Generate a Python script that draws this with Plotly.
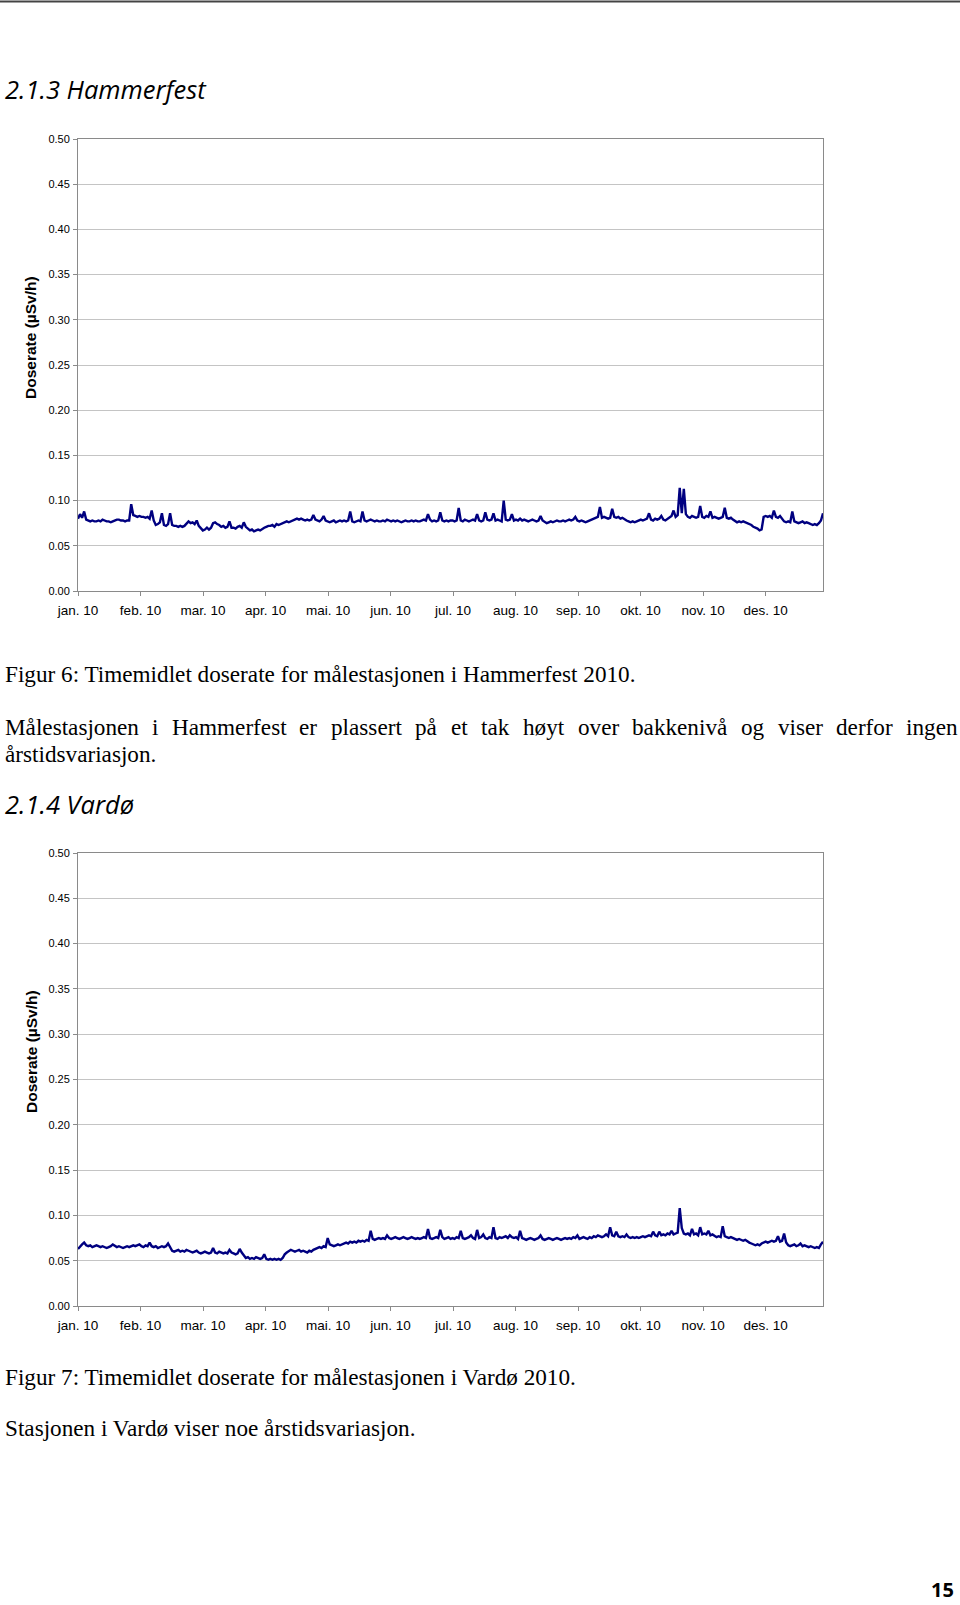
import plotly.graph_objects as go

# ---------------- data (hourly dose rate, read as daily values, in 0.001 µSv/h) -------------
month_labels = ["jan. 10", "feb. 10", "mar. 10", "apr. 10", "mai. 10", "jun. 10",
                "jul. 10", "aug. 10", "sep. 10", "okt. 10", "nov. 10", "des. 10"]
month_step_days = 30.54
y_ticks = [0.00, 0.05, 0.10, 0.15, 0.20, 0.25, 0.30, 0.35, 0.40, 0.45, 0.50]

hammerfest = [
    80, 85, 81, 88, 79, 78, 77, 78, 77, 77,
    78, 77, 79, 78, 77, 77, 76, 77, 78, 79,
    79, 78, 78, 77, 78, 78, 96, 84, 83, 82,
    83, 82, 82, 81, 82, 80, 89, 78, 73, 74,
    76, 86, 73, 72, 74, 86, 73, 72, 72, 71,
    72, 71, 72, 74, 77, 75, 76, 74, 78, 72,
    70, 67, 68, 70, 68, 70, 75, 76, 74, 73,
    71, 72, 70, 71, 77, 70, 70, 69, 71, 72,
    70, 76, 71, 69, 67, 68, 66, 67, 68, 67,
    69, 70, 71, 72, 72, 73, 71, 74, 73, 74,
    75, 76, 77, 76, 77, 78, 79, 80, 79, 80,
    79, 78, 79, 78, 79, 84, 79, 78, 77, 79,
    83, 78, 77, 76, 77, 78, 76, 77, 78, 77,
    78, 77, 78, 88, 77, 76, 77, 78, 77, 88,
    78, 77, 78, 79, 78, 77, 78, 77, 77, 78,
    77, 79, 78, 77, 78, 77, 78, 77, 76, 77,
    78, 77, 77, 78, 77, 78, 77, 77, 78, 79,
    78, 85, 79, 77, 78, 77, 78, 87, 78, 77,
    78, 77, 78, 78, 77, 78, 92, 78, 77, 79,
    78, 77, 78, 79, 78, 85, 78, 77, 78, 87,
    79, 78, 79, 86, 78, 79, 78, 77, 100, 79,
    78, 79, 85, 78, 79, 78, 80, 78, 79, 78,
    77, 78, 79, 78, 77, 78, 83, 78, 76, 75,
    76, 77, 76, 77, 78, 77, 77, 78, 77, 78,
    79, 78, 79, 82, 78, 77, 78, 77, 76, 77,
    78, 79, 80, 81, 82, 93, 81, 82, 81, 80,
    81, 91, 82, 81, 82, 80, 81, 79, 78, 77,
    76, 77, 76, 77, 78, 79, 78, 79, 80, 86,
    79, 78, 80, 79, 80, 83, 79, 78, 80, 81,
    83, 89, 82, 84, 114, 86, 113, 85, 82, 81,
    83, 82, 81, 82, 94, 82, 81, 83, 82, 88,
    81, 82, 81, 80, 81, 82, 92, 81, 80, 81,
    79, 77, 76, 77, 76, 77, 76, 75, 74, 73,
    71, 70, 69, 67, 68, 82, 83, 82, 83, 81,
    89, 82, 81, 83, 80, 77, 76, 77, 76, 88,
    77, 76, 75, 76, 77, 75, 76, 75, 74, 73,
    74, 73, 75, 78, 86,
]

vardo = [
    63, 66, 68, 70, 67, 66, 67, 65, 66, 67,
    66, 65, 66, 65, 64, 65, 66, 68, 66, 65,
    66, 65, 64, 65, 66, 65, 66, 67, 66, 67,
    68, 66, 65, 67, 66, 70, 66, 65, 66, 64,
    65, 66, 65, 66, 69, 65, 61, 60, 61, 62,
    60, 61, 60, 62, 61, 60, 59, 60, 61, 59,
    58, 59, 60, 59, 58, 59, 64, 59, 58, 60,
    59, 58, 59, 58, 62, 59, 58, 57, 58, 63,
    59, 56, 53, 54, 52, 53, 52, 54, 53, 52,
    53, 57, 52, 51, 52, 51, 52, 51, 52, 51,
    53, 57, 59, 61, 62, 61, 60, 61, 62, 60,
    61, 60, 59, 61, 60, 62, 63, 64, 65, 64,
    66, 65, 75, 68, 67, 66, 67, 68, 67, 68,
    69, 70, 69, 71, 70, 71, 70, 72, 71, 72,
    71, 73, 72, 83, 74, 73, 74, 75, 74, 75,
    74, 78, 75, 74, 75, 76, 75, 74, 75, 76,
    75, 74, 75, 76, 75, 74, 75, 74, 75, 76,
    75, 85, 75, 74, 75, 76, 75, 84, 76, 74,
    75, 76, 74, 75, 74, 76, 75, 83, 75, 74,
    75, 76, 78, 75, 74, 84, 75, 76, 79, 75,
    74, 76, 75, 87, 75, 74, 76, 75, 76, 77,
    75, 78, 76, 75, 76, 74, 83, 75, 74, 73,
    74, 75, 74, 73, 74, 75, 78, 74, 73, 74,
    75, 74, 73, 74, 75, 74, 73, 74, 75, 74,
    75, 74, 76, 75, 78, 74, 75, 76, 75, 74,
    76, 75, 77, 76, 78, 77, 76, 77, 79, 77,
    87, 78, 77, 82, 77, 76, 77, 76, 79, 76,
    75, 76, 75, 76, 75, 76, 77, 76, 77, 78,
    77, 82, 78, 77, 82, 78, 79, 78, 80, 79,
    83, 79, 80, 81, 108, 86, 80, 79, 80, 78,
    85, 79, 80, 78, 87, 79, 80, 79, 83, 78,
    79, 77, 76, 77, 76, 88, 77, 76, 75, 76,
    75, 74, 73, 74, 73, 72, 73, 71, 70, 69,
    68, 67, 68, 67, 69, 70, 71, 70, 71, 72,
    71, 72, 77, 71, 72, 80, 70, 67, 66, 67,
    68, 66, 67, 69, 66, 67, 66, 65, 66, 65,
    64, 65, 64, 68, 71,
]

# ---------------- page geometry helpers ----------------
W, H = 960, 1605
def fx(px):
    return px / W
def fy(py):
    return 1 - py / H

LINE = "#000080"
AXIS = "#8a8a8a"
GRID = "#c4c4c4"
SANS = "Liberation Sans, Arial, sans-serif"
SERIF = "Liberation Serif, Times New Roman, serif"

fig = go.Figure()
for ax_id, series in (("", hammerfest), ("2", vardo)):
    fig.add_trace(go.Scatter(
        x=list(range(len(series))),
        y=[v / 1000 for v in series],
        mode="lines",
        line=dict(color=LINE, width=2.4),
        xaxis="x" + ax_id, yaxis="y" + ax_id,
        showlegend=False, hoverinfo="skip",
    ))

tickvals = [i * month_step_days for i in range(len(month_labels))]

def xaxis_cfg(anchor):
    return dict(
        domain=[fx(78), fx(823)], range=[0, len(hammerfest) - 1], anchor=anchor,
        tickmode="array", tickvals=tickvals, ticktext=month_labels,
        ticks="outside", ticklen=4, tickcolor=AXIS, tickwidth=1,
        showline=True, linecolor=AXIS, linewidth=1, mirror=True,
        showgrid=False, zeroline=False, automargin=False,
        tickfont=dict(family=SANS, size=13.5, color="black"),
        ticklabelstandoff=3,
    )

def yaxis_cfg(anchor, top, bottom):
    return dict(
        domain=[fy(bottom), fy(top)], range=[0, 0.5], anchor=anchor,
        tickmode="array", tickvals=y_ticks, tickformat=".2f",
        ticks="outside", ticklen=4, tickcolor=AXIS, tickwidth=1,
        showline=True, linecolor=AXIS, linewidth=1, mirror=True,
        showgrid=True, gridcolor=GRID, gridwidth=1, zeroline=False,
        automargin=False,
        tickfont=dict(family=SANS, size=11, color="black"),
        ticklabelstandoff=1,
    )

fig.update_layout(
    width=W, height=H, margin=dict(l=0, r=0, t=0, b=0),
    paper_bgcolor="white", plot_bgcolor="white",
    xaxis=xaxis_cfg("y"), yaxis=yaxis_cfg("x", 139, 591),
    xaxis2=xaxis_cfg("y2"), yaxis2=yaxis_cfg("x2", 853, 1306),
)

annotations = []
def text(x, y, s, family, size, xanchor="left", yanchor="middle", **fontkw):
    annotations.append(dict(
        x=fx(x), y=fy(y), xref="paper", yref="paper", text=s, showarrow=False,
        xanchor=xanchor, yanchor=yanchor,
        font=dict(family=family, size=size, color="black", **fontkw),
    ))

# y-axis titles
for cy in (338, 1052):
    annotations.append(dict(
        x=fx(31), y=fy(cy), xref="paper", yref="paper", text="<b>Doserate (µSv/h)</b>",
        showarrow=False, textangle=-90, xanchor="center", yanchor="middle",
        font=dict(family=SANS, size=15.5, color="black"),
    ))

text(3, 89, "2.1.3 Hammerfest", "Open Sans", 25.5, style="italic")
text(3, 674, "Figur 6: Timemidlet doserate for målestasjonen i Hammerfest 2010.", SERIF, 23.2)

# justified paragraph line (word start positions from the page layout)
words = ["Målestasjonen", "i", "Hammerfest", "er", "plassert", "på", "et", "tak",
         "høyt", "over", "bakkenivå", "og", "viser", "derfor", "ingen"]
word_x = [3, 150, 170, 297, 329, 413, 449, 479, 521, 576, 630, 739, 776, 834, 904]
for w, x in zip(words, word_x):
    text(x, 727, w, SERIF, 23.2)
text(3, 754, "årstidsvariasjon.", SERIF, 23.2)

text(3, 804, "2.1.4 Vardø", "Open Sans", 25.5, style="italic")
text(3, 1377, "Figur 7: Timemidlet doserate for målestasjonen i Vardø 2010.", SERIF, 23.2)
text(3, 1428, "Stasjonen i Vardø viser noe årstidsvariasjon.", SERIF, 23.2)
text(956, 1589, "<b>15</b>", "Open Sans", 20, xanchor="right")

fig.update_layout(annotations=annotations)
fig.add_shape(type="line", xref="paper", yref="paper", x0=0, x1=1, y0=fy(1.5), y1=fy(1.5),
              line=dict(color="#444444", width=2))

fig.write_html("out.html")
